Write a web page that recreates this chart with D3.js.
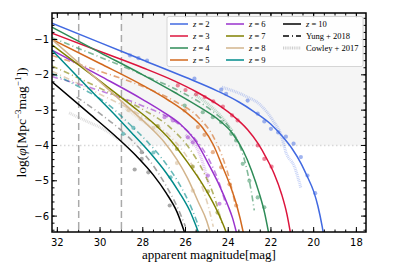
<!DOCTYPE html>
<html>
<head>
<meta charset="utf-8">
<script src="https://cdn.jsdelivr.net/npm/d3@7"></script>
<style>
  body { margin: 0; background: #fff; }
  svg { display: block; }
  .tick-label { font-family: "DejaVu Sans", sans-serif; font-size: 10px; fill: #000; }
  .serif { font-family: "Liberation Serif", "DejaVu Serif", serif; fill: #000; }
</style>
</head>
<body>
<svg id="chart" width="399" height="266"></svg>
<script>
// redshift bins, colours
const redshifts = [2, 3, 4, 5, 6, 7, 8, 9, 10];
const colors = ["#4169e1", "#dc143c", "#2e8b57", "#d2691e", "#9932cc", "#808000", "#d2b48c", "#008b8b", "#000000"];

// solid fits: [apparent mag, log phi]
const fitZ2 = [[32.25,-0.54],[30,-1.09],[28,-1.58],[26,-2.07],[24.5,-2.46],[23.5,-2.77],[22.8,-3.04],[22,-3.4],[21.5,-3.72],[21,-4.1],[20.6,-4.5],[20.3,-4.88],[20,-5.3],[19.8,-5.72],[19.6,-6.3],[19.53,-6.55]];
const fitZ3 = [[32.25,-0.82],[30,-1.34],[28,-1.8],[26.5,-2.18],[25.5,-2.48],[24.5,-2.84],[23.7,-3.2],[23.1,-3.55],[22.6,-3.95],[22.2,-4.37],[21.85,-4.8],[21.5,-5.38],[21.25,-5.95],[21.08,-6.5]];
const fitZ4 = [[32.25,-0.65],[30,-1.37],[28,-2.0],[26.5,-2.5],[25.3,-2.93],[24.4,-3.3],[23.8,-3.66],[23.3,-4.15],[22.9,-4.72],[22.55,-5.35],[22.3,-5.9],[22.1,-6.5]];
const fitZ5 = [[32.25,-1.0],[30,-1.68],[28,-2.3],[26.8,-2.72],[25.9,-3.1],[25.2,-3.5],[24.7,-3.98],[24.3,-4.55],[23.9,-5.15],[23.6,-5.7],[23.3,-6.45],[23.25,-6.6]];
const fitZ6 = [[32.25,-1.3],[30,-2.03],[28,-2.7],[27,-3.07],[26.2,-3.42],[25.5,-3.9],[24.9,-4.55],[24.4,-5.15],[24,-5.72],[23.8,-6.05],[23.6,-6.5]];
const fitZ7 = [[32.25,-1.15],[30,-2.18],[28.5,-2.88],[27.5,-3.37],[26.7,-3.85],[25.9,-4.48],[25.2,-5.1],[24.6,-5.75],[24.1,-6.45],[24.0,-6.62]];
const fitZ8 = [[32.25,-1.0],[30,-2.2],[28.5,-3.02],[27.6,-3.52],[27,-3.9],[26.4,-4.4],[25.9,-4.93],[25.4,-5.6],[25,-6.15],[24.85,-6.45]];
const fitZ9 = [[32.25,-1.3],[30.5,-2.4],[29.2,-3.2],[28.4,-3.72],[27.6,-4.25],[26.9,-4.78],[26.3,-5.32],[25.8,-5.85],[25.4,-6.45]];
const fitZ10 = [[32.25,-2.2],[30.5,-3.1],[29.2,-3.78],[28.3,-4.3],[27.5,-4.84],[26.9,-5.35],[26.4,-5.88],[26.05,-6.45]];

// Yung+ 2018 (dash-dot)
const yungZ4 = [[32.25,-0.95],[30,-1.5],[28,-2.0],[26,-2.55],[24.8,-3.0],[24,-3.45],[23.5,-3.95],[23.2,-4.5],[22.95,-5.2],[22.78,-5.84]];
const yungZ5 = [[32.25,-1.45],[30,-1.9],[28,-2.33],[26.5,-2.75],[25.4,-3.2],[24.7,-3.75],[24.2,-4.45],[23.9,-5.05],[23.7,-5.6]];
const yungZ6 = [[32.25,-2.05],[30,-2.45],[28,-2.88],[26.6,-3.28],[25.6,-3.78],[24.9,-4.4],[24.4,-5.1],[24.1,-5.7]];
const yungZ7 = [[32.25,-1.75],[30,-2.38],[28,-2.98],[26.7,-3.5],[25.8,-4.1],[25.1,-4.82],[24.6,-5.55],[24.3,-6.2]];
const yungZ8 = [[32.25,-1.9],[30,-2.55],[28,-3.18],[26.8,-3.7],[25.9,-4.35],[25.3,-5.05],[24.9,-5.8],[24.7,-6.3]];
const yungZ9 = [[32.25,-1.96],[30.8,-2.4],[29.7,-2.8],[28.7,-3.35],[27.7,-3.95],[27,-4.45],[26.3,-5.08],[25.7,-5.8],[25.35,-6.35]];
const yungZ10 = [[31.1,-2.63],[30,-3.1],[29,-3.58],[28.2,-4.05],[27.5,-4.58],[26.9,-5.15],[26.4,-5.72],[26,-6.3]];

// data points
const dotsZ2 = [[28.6,-1.45],[28.2,-1.53],[27.8,-1.6],[25.58,-2.11],[24.33,-2.42],[24.1,-2.54],[23.09,-2.73],[22.62,-3.1],[22.31,-3.32],[22.0,-3.53],[21.66,-3.63],[21.3,-3.75],[20.94,-3.95],[20.6,-4.33],[20.29,-4.85],[19.93,-5.35]];
const dotsZ3 = [[26.36,-2.3],[26.0,-2.43],[25.5,-2.55],[25.1,-2.63],[24.7,-2.75],[24.25,-2.9],[23.82,-3.15],[23.56,-3.29],[22.62,-4.0],[22.31,-4.38],[21.97,-4.6]];
const dotsZ4 = [[26.04,-2.87],[25.19,-3.06],[24.72,-3.2],[24.33,-3.34],[23.86,-3.67],[23.63,-3.86],[23.32,-4.52],[23.01,-5.0],[22.62,-5.47],[22.31,-5.75]];
const dotsZ5 = [[26.04,-3.01],[25.42,-3.48],[25.11,-3.7],[24.72,-4.19],[24.33,-4.62],[23.94,-5.1],[23.63,-5.7]];
const dotsZ6 = [[26.98,-3.2],[26.59,-3.29],[25.89,-3.77],[25.66,-3.91],[24.95,-4.85],[24.41,-5.65]];
const dotsZ7 = [[27.3,-3.45],[26.4,-4.1],[25.66,-4.6],[24.95,-5.3],[24.5,-5.9]];
const dotsZ8 = [[28.67,-3.0],[28.1,-3.25],[27.5,-3.5],[26.4,-4.5],[25.66,-5.28]];
const dotsZ9 = [[28.92,-3.67],[28.44,-3.5],[27.5,-4.2],[26.7,-4.9]];
const dotsZ10 = [[28.38,-4.68],[28.05,-4.19],[28.05,-4.38],[27.74,-4.76],[26.74,-5.7]];

// Cowley+ 2017 (faint thick dotted)
const cowleyZ2 = [[24.3,-2.35],[23.2,-2.6],[22.5,-2.85],[21.9,-3.3],[21.5,-3.75],[21.3,-4.19],[20.9,-4.6],[20.6,-5.2]];
const cowleyZ4 = [[25.6,-2.55],[24.9,-2.85],[24.3,-3.2],[23.8,-3.6]];
const cowleyZ6 = [[26.0,-3.7],[25.3,-4.3],[24.9,-5.1]];
const cowleyZ8 = [[28.8,-2.95],[27.9,-3.35],[27.0,-3.75]];
const cowleyZ10 = [[31.45,-3.08],[30.5,-3.35],[29.8,-3.55],[29.1,-3.85]];

const xTicks = [32, 30, 28, 26, 24, 22, 20, 18];
const yTicks = [-1, -2, -3, -4, -5, -6];
const limitMags = [31, 29];
const limitPhi = -4;

const fits = [fitZ2, fitZ3, fitZ4, fitZ5, fitZ6, fitZ7, fitZ8, fitZ9, fitZ10];
const yung = [null, null, yungZ4, yungZ5, yungZ6, yungZ7, yungZ8, yungZ9, yungZ10];
const dots = [dotsZ2, dotsZ3, dotsZ4, dotsZ5, dotsZ6, dotsZ7, dotsZ8, dotsZ9, dotsZ10];
const cowley = [cowleyZ2, null, cowleyZ4, null, cowleyZ6, null, cowleyZ8, null, cowleyZ10];

const svg = d3.select("#chart");
const pLeft = 52, pRight = 366, pTop = 13, pBottom = 232;

const x = d3.scaleLinear().domain([32.25, 17.55]).range([pLeft, pRight]);
const y = d3.scaleLinear().domain([-0.25, -6.45]).range([pTop, pBottom]);

svg.append("defs").append("clipPath").attr("id", "plotClip")
    .append("rect").attr("x", pLeft).attr("y", pTop).attr("width", pRight - pLeft).attr("height", pBottom - pTop);

const plot = svg.append("g").attr("clip-path", "url(#plotClip)");

// shaded region (beyond depth limit)
plot.append("rect")
    .attr("x", x(limitMags[1])).attr("y", pTop)
    .attr("width", pRight - x(limitMags[1])).attr("height", y(limitPhi) - pTop)
    .attr("fill", "#f5f5f5");

plot.append("line")
    .attr("x1", pLeft).attr("x2", pRight).attr("y1", y(limitPhi)).attr("y2", y(limitPhi))
    .attr("stroke", "#d8d8d8").attr("stroke-width", 1.5).attr("stroke-dasharray", "1.5,2.5");

limitMags.forEach(m => {
    plot.append("line")
        .attr("x1", x(m)).attr("x2", x(m)).attr("y1", pTop).attr("y2", pBottom)
        .attr("stroke", "#aaa").attr("stroke-width", 1.5).attr("stroke-dasharray", "7,4");
});

const line = d3.line().x(d => x(d[0])).y(d => y(d[1])).curve(d3.curveMonotoneX);

// Cowley
cowley.forEach((c, i) => {
    if (!c) return;
    plot.append("path").attr("d", line(c)).attr("fill", "none")
        .attr("stroke", i === 8 ? "#888" : colors[i]).attr("stroke-opacity", 0.28)
        .attr("stroke-width", 3).attr("stroke-dasharray", "1,0.8");
});

// Yung
yung.forEach((c, i) => {
    if (!c) return;
    plot.append("path").attr("d", line(c)).attr("fill", "none")
        .attr("stroke", i === 8 ? "#666" : colors[i]).attr("stroke-opacity", 0.6)
        .attr("stroke-width", 1.6).attr("stroke-dasharray", "6,3,1,3");
});

// points
dots.forEach((c, i) => {
    plot.append("g").selectAll("circle").data(c).join("circle")
        .attr("cx", d => x(d[0])).attr("cy", d => y(d[1])).attr("r", 2.1)
        .attr("fill", i === 8 ? "#555" : colors[i]).attr("fill-opacity", 0.5);
});

// fits
fits.forEach((c, i) => {
    plot.append("path").attr("d", line(c)).attr("fill", "none")
        .attr("stroke", colors[i]).attr("stroke-width", 1.5);
});

// axes (ticks inward on all sides)
const xMinor = d3.range(32, 17.5, -0.5);
const yMinor = d3.range(-0.4, -6.45, -0.2);

function ticks(g, vals, len, horizontal) {
    vals.forEach(v => {
        if (horizontal) {
            g.append("line").attr("x1", x(v)).attr("x2", x(v)).attr("y1", pBottom).attr("y2", pBottom - len).attr("stroke", "#000");
            g.append("line").attr("x1", x(v)).attr("x2", x(v)).attr("y1", pTop).attr("y2", pTop + len).attr("stroke", "#000");
        } else {
            g.append("line").attr("y1", y(v)).attr("y2", y(v)).attr("x1", pLeft).attr("x2", pLeft + len).attr("stroke", "#000");
            g.append("line").attr("y1", y(v)).attr("y2", y(v)).attr("x1", pRight).attr("x2", pRight - len).attr("stroke", "#000");
        }
    });
}
const axes = svg.append("g");
ticks(axes, xMinor, 2.5, true);
ticks(axes, xTicks, 5, true);
ticks(axes, yMinor, 2.5, false);
ticks(axes, yTicks, 5, false);

axes.append("rect").attr("x", pLeft).attr("y", pTop).attr("width", pRight - pLeft).attr("height", pBottom - pTop)
    .attr("fill", "none").attr("stroke", "#000").attr("stroke-width", 1.5);

axes.selectAll(".xl").data(xTicks).join("text").attr("class", "tick-label")
    .attr("x", d => x(d)).attr("y", 246).attr("text-anchor", "middle").text(d => d);
axes.selectAll(".yl").data(yTicks).join("text").attr("class", "tick-label")
    .attr("x", 49).attr("y", d => y(d) + 3.5).attr("text-anchor", "end").text(d => "\u2212" + Math.abs(d));

svg.append("text").attr("class", "serif").attr("x", (pLeft + pRight) / 2).attr("y", 259)
    .attr("text-anchor", "middle").attr("font-size", 13).text("apparent magnitude[mag]");

const yl = svg.append("text").attr("class", "serif").attr("font-size", 13.5)
    .attr("transform", `translate(26,${(pTop + pBottom) / 2}) rotate(-90)`).attr("text-anchor", "middle");
yl.append("tspan").text("log(");
yl.append("tspan").attr("font-style", "italic").text("\u03c6");
yl.append("tspan").text("[Mpc");
yl.append("tspan").attr("font-size", 9).attr("dy", -5).text("\u22123");
yl.append("tspan").attr("dy", 5).text("mag");
yl.append("tspan").attr("font-size", 9).attr("dy", -5).text("\u22121");
yl.append("tspan").attr("dy", 5).text("])");

// legend
const lg = svg.append("g");
lg.append("rect").attr("x", 167).attr("y", 16.5).attr("width", 196).attr("height", 50)
    .attr("rx", 2).attr("fill", "#fff").attr("fill-opacity", 0.9).attr("stroke", "#ccc").attr("stroke-width", 0.8);

const legendItems = redshifts.map((z, i) => ({ label: z, color: colors[i], dash: null, w: 1.5, op: 1 }));
legendItems.push({ label: "Yung + 2018", color: "#000", dash: "6,3,1,3", w: 1.5, op: 1 });
legendItems.push({ label: "Cowley + 2017", color: "#888", dash: "1,0.8", w: 3, op: 0.4 });

const colX = [170, 226, 283];
legendItems.forEach((d, i) => {
    const col = Math.floor(i / 4), row = i % 4;
    const ly = 24 + row * 12;
    lg.append("line").attr("x1", colX[col]).attr("x2", colX[col] + 18).attr("y1", ly).attr("y2", ly)
        .attr("stroke", d.color).attr("stroke-width", d.w).attr("stroke-opacity", d.op)
        .attr("stroke-dasharray", d.dash);
    const t = lg.append("text").attr("class", "serif").attr("font-size", 8.5)
        .attr("x", colX[col] + 23).attr("y", ly + 3);
    if (typeof d.label === "number") {
        t.append("tspan").attr("font-style", "italic").text("z");
        t.append("tspan").text(" = " + d.label);
    } else {
        t.text(d.label);
    }
});
</script>
</body>
</html>
